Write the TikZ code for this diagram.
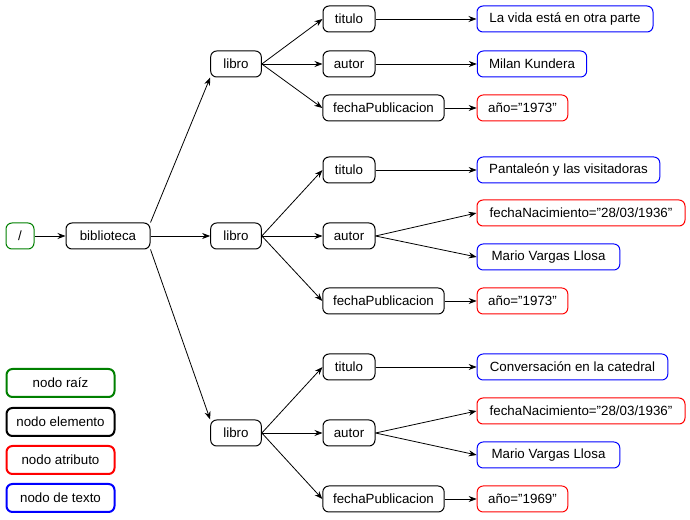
\documentclass[tikz,border=0pt]{standalone}
\usepackage{fontspec}
\setmainfont{Liberation Sans}
\usetikzlibrary{arrows.meta}
\newcommand{\cq}{\symbol{34}}

\begin{document}
\begin{tikzpicture}[
    x = 0.75pt, y = -0.75pt,
    font = \fontsize{10}{12}\selectfont,
    %
    nodo/.style = {draw, rounded corners = 4.5pt,
      minimum height = 19.5pt, inner sep = 0pt, line width = 0.75pt},
    raiz/.style = {nodo, draw = green!50!black},
    elemento/.style = {nodo, draw = black},
    atributo/.style = {nodo, draw = red},
    texto/.style = {nodo, draw = blue},
    leyenda/.style = {minimum width = 81pt, minimum height = 21pt,
      line width = 1.5pt},
    flecha/.style = {-{Stealth[length = 6pt, width = 4.5pt]}, line width = 0.6pt},
    ]

    \useasboundingbox (0, 0) rectangle (690, 520);

    \node at (20, 236) [raiz, minimum width = 21pt, name = raiz] {/};
    \node at (108, 236) [elemento, minimum width = 63pt, name = biblioteca] {biblioteca};

    \node at (236, 64) [elemento, minimum width = 38pt, name = libroA] {libro};
    \node at (236, 236) [elemento, minimum width = 38pt, name = libroB] {libro};
    \node at (236, 433) [elemento, minimum width = 38pt, name = libroC] {libro};

    % primer libro
    \node at (349, 19) [elemento, minimum width = 39pt, name = tituloA] {titulo};
    \node at (349, 64) [elemento, minimum width = 39pt, name = autorA] {autor};
    \node at (383.5, 108) [elemento, minimum width = 91pt, name = fechaA] {fechaPublicacion};
    \node at (565, 19) [texto, minimum width = 132pt, name = tituloTxtA] {La vida está en otra parte};
    \node at (532, 64) [texto, minimum width = 82pt, name = autorTxtA] {Milan Kundera};
    \node at (522.5, 108) [atributo, minimum width = 68pt, name = anioA] {año=\cq1973\cq};

    % segundo libro
    \node at (349, 170) [elemento, minimum width = 39pt, name = tituloB] {titulo};
    \node at (349, 236) [elemento, minimum width = 39pt, name = autorB] {autor};
    \node at (383.5, 301) [elemento, minimum width = 91pt, name = fechaB] {fechaPublicacion};
    \node at (568.5, 170) [texto, minimum width = 137pt, name = tituloTxtB] {Pantaleón y las visitadoras};
    \node at (581, 213) [atributo, minimum width = 156pt, name = nacB] {fechaNacimiento=\cq28/03/1936\cq};
    \node at (548.5, 257) [texto, minimum width = 107pt, name = autorTxtB] {Mario Vargas Llosa};
    \node at (522.5, 301) [atributo, minimum width = 68pt, name = anioB] {año=\cq1973\cq};

    % tercer libro
    \node at (349, 367) [elemento, minimum width = 39pt, name = tituloC] {titulo};
    \node at (349, 433) [elemento, minimum width = 39pt, name = autorC] {autor};
    \node at (383.5, 499) [elemento, minimum width = 91pt, name = fechaC] {fechaPublicacion};
    \node at (572.5, 367) [texto, minimum width = 143pt, name = tituloTxtC] {Conversación en la catedral};
    \node at (581, 411) [atributo, minimum width = 156pt, name = nacC] {fechaNacimiento=\cq28/03/1936\cq};
    \node at (548.5, 455) [texto, minimum width = 107pt, name = autorTxtC] {Mario Vargas Llosa};
    \node at (522.5, 499) [atributo, minimum width = 68pt, name = anioC] {año=\cq1969\cq};

    % leyenda
    \node at (60.5, 383) [raiz, leyenda, name = legRaiz] {nodo raíz};
    \node at (60.5, 422) [elemento, leyenda, name = legElem] {nodo elemento};
    \node at (60.5, 460) [atributo, leyenda, name = legAtr] {nodo atributo};
    \node at (60.5, 498) [texto, leyenda, name = legTxt] {nodo de texto};

    \draw [flecha] (raiz) -- (biblioteca);
    \draw [flecha] (biblioteca.north east) -- (libroA.south west);
    \draw [flecha] (biblioteca.east) -- (libroB);
    \draw [flecha] (biblioteca.south east) -- (libroC.north west);

    \foreach \l in {A, B, C} {
      \draw [flecha] (libro\l.east) -- (titulo\l.west);
      \draw [flecha] (libro\l.east) -- (autor\l.west);
      \draw [flecha] (libro\l.east) -- (fecha\l.west);
      \draw [flecha] (titulo\l) -- (tituloTxt\l);
      \draw [flecha] (fecha\l) -- (anio\l);
    }
    \draw [flecha] (autorA) -- (autorTxtA);
    \draw [flecha] (autorB.east) -- (nacB.west);
    \draw [flecha] (autorB.east) -- (autorTxtB.west);
    \draw [flecha] (autorC.east) -- (nacC.west);
    \draw [flecha] (autorC.east) -- (autorTxtC.west);

  \end{tikzpicture}
\end{document}
